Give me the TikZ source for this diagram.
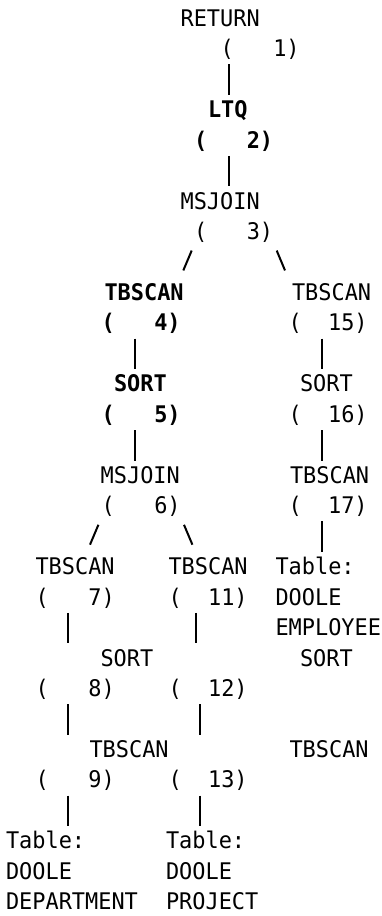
\documentclass[tikz,border=0pt]{standalone}
\usepackage{fontspec}
\usetikzlibrary{calc}
\newfontfamily\monofam[FakeStretch=0.957]{DejaVu Sans Mono}
\newcommand\tfont{\monofam\fontsize{22.9pt}{30.47pt}\selectfont}
% baseline of text row #1
\newcommand\rowy[1]{26.2+(#1-1)*30.47}
\tikzset{
  txt/.style={anchor=base west, inner sep=0pt, outer sep=0pt, text height=22.7pt, text depth=7.77pt, font=\tfont},
  btxt/.style={txt, font=\tfont\bfseries},
  lasttxt/.style={txt, text depth=0.5pt},
  conn/.style={line width=2pt, black},
}
\begin{document}
\begin{tikzpicture}[x=1pt, y=-1pt]
\useasboundingbox (0,0) rectangle (381,916);
\node[txt]  (ret)   at (180.6, {\rowy{1}})  {RETURN};
\node[txt]  (p1)    at (220.5, {\rowy{2}})  {(~~~1)};
\node[btxt] (ltq)   at (208.0, {\rowy{4}})  {LTQ};
\node[btxt] (p2)    at (194.0, {\rowy{5}})  {(~~~2)};
\node[txt]  (ms3)   at (180.6, {\rowy{7}})  {MSJOIN};
\node[txt]  (p3)    at (194.0, {\rowy{8}})  {(~~~3)};
\node[btxt] (tb4)   at (104.5, {\rowy{10}}) {TBSCAN};
\node[txt]  (tb15)  at (292.0, {\rowy{10}}) {TBSCAN};
\node[btxt] (p4)    at (101.5, {\rowy{11}}) {(~~~4)};
\node[txt]  (p15)   at (288.5, {\rowy{11}}) {(~~15)};
\node[btxt] (sort5) at (114.0, {\rowy{13}}) {SORT};
\node[txt]  (sort16) at (300.0, {\rowy{13}}) {SORT};
\node[btxt] (p5)    at (101.5, {\rowy{14}}) {(~~~5)};
\node[txt]  (p16)   at (288.5, {\rowy{14}}) {(~~16)};
\node[txt]  (ms6)   at (100.7, {\rowy{16}}) {MSJOIN};
\node[txt]  (tb17)  at (290.0, {\rowy{16}}) {TBSCAN};
\node[txt]  (p6)    at (101.5, {\rowy{17}}) {(~~~6)};
\node[txt]  (p17)   at (288.5, {\rowy{17}}) {(~~17)};
\node[txt]  (tb7)   at (35.5, {\rowy{19}})  {TBSCAN};
\node[txt]  (tb11)  at (168.5, {\rowy{19}}) {TBSCAN};
\node[txt]  (tabe)  at (275.5, {\rowy{19}}) {Table:};
\node[txt]  (p7)    at (35.7, {\rowy{20}})  {(~~~7)};
\node[txt]  (p11)   at (168.5, {\rowy{20}}) {(~~11)};
\node[txt]  (doolee) at (275.5, {\rowy{20}}) {DOOLE};
\node[txt]  (emp)   at (275.5, {\rowy{21}}) {EMPLOYEE};
\node[txt]  (sort8) at (100.5, {\rowy{22}}) {SORT};
\node[txt]  (sort12) at (300.0, {\rowy{22}}) {SORT};
\node[txt]  (p8)    at (35.7, {\rowy{23}})  {(~~~8)};
\node[txt]  (p12)   at (168.5, {\rowy{23}}) {(~~12)};
\node[txt]  (tb9)   at (89.5, {\rowy{25}})  {TBSCAN};
\node[txt]  (tb13)  at (289.5, {\rowy{25}}) {TBSCAN};
\node[txt]  (p9)    at (35.7, {\rowy{26}})  {(~~~9)};
\node[txt]  (p13)   at (168.5, {\rowy{26}}) {(~~13)};
\node[txt]  (tabd)  at (6, {\rowy{28}})     {Table:};
\node[txt]  (tabp)  at (166, {\rowy{28}})   {Table:};
\node[txt]  (dooled) at (6, {\rowy{29}})    {DOOLE};
\node[txt]  (doolep) at (166, {\rowy{29}})  {DOOLE};
\node[lasttxt] (dept) at (6, {\rowy{30}})   {DEPARTMENT};
\node[lasttxt] (proj) at (166, {\rowy{30}}) {PROJECT};
% vertical connectors
\draw[conn] (p1.south -| 229,0) -- (ltq.north -| 229,0);
\draw[conn] (p2.south -| 229,0) -- (ms3.north -| 229,0);
\draw[conn] (p4.south -| 134.5,0) -- (sort5.north -| 134.5,0);
\draw[conn] (p15.south -| 321.5,0) -- (sort16.north -| 321.5,0);
\draw[conn] (p5.south -| 134.5,0) -- (ms6.north -| 134.5,0);
\draw[conn] (p16.south -| 321.5,0) -- (tb17.north -| 321.5,0);
\draw[conn] (p17.south -| 321.5,0) -- (tabe.north -| 321.5,0);
\draw[conn] (p7.south -| 68.3,0) -- (sort8.north -| 68.3,0);
\draw[conn] (p11.south -| 196,0) -- (sort12.north -| 196,0);
\draw[conn] (p8.south -| 68.3,0) -- (tb9.north -| 68.3,0);
\draw[conn] (p12.south -| 200,0) -- (tb13.north -| 200,0);
\draw[conn] (p9.south -| 68.3,0) -- (tabd.north -| 68.3,0);
\draw[conn] (p13.south -| 200,0) -- (tabp.north -| 200,0);
% slanted connectors
\draw[conn] ($(p3.south -| 191.7,0)+(0,3.3)$) -- ($(tb4.north -| 183.3,0)+(0,-7.3)$);
\draw[conn] ($(p3.south -| 276.7,0)+(0,3.3)$) -- ($(tb15.north -| 285.0,0)+(0,-7.3)$);
\draw[conn] ($(p6.south -| 98.4,0)+(0,3.3)$) -- ($(tb7.north -| 90.0,0)+(0,-7.3)$);
\draw[conn] ($(p6.south -| 184.0,0)+(0,3.3)$) -- ($(tb11.north -| 192.4,0)+(0,-7.3)$);
\end{tikzpicture}
\end{document}
